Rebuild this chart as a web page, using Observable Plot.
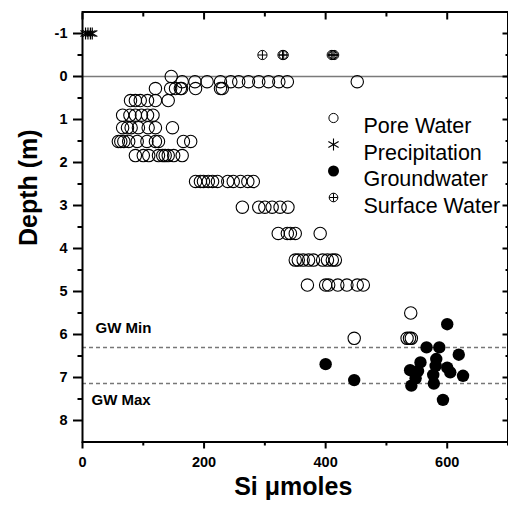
<!DOCTYPE html>
<html><head><meta charset="utf-8">
<script src="https://cdn.jsdelivr.net/npm/d3@7"></script>
<script src="https://cdn.jsdelivr.net/npm/@observablehq/plot@0.6"></script>
<style>body{margin:0;background:#fff}</style>
</head><body><div id="chart"></div>
<script>
// ---- data ----
const poreRowDepths = [0.0, 0.12, 0.28, 0.56, 0.90, 1.19, 1.51, 1.84, 2.44, 3.04, 3.65, 4.27, 4.85, 5.50, 6.09];
const poreRowSi = [
  [146],
  [164, 185, 205, 227, 244, 257, 273, 290, 306, 323, 337, 452],
  [120, 145, 153, 161, 163, 186, 227, 230],
  [79, 87, 95, 107, 120, 141],
  [66, 78, 87, 97, 107, 116],
  [66, 74, 80, 92, 108, 120, 148],
  [59, 63, 68, 76, 90, 106, 120, 125, 166, 178],
  [87, 100, 109, 125, 132, 136, 141, 150, 164],
  [186, 194, 199, 207, 214, 222, 239, 248, 260, 272, 281],
  [263, 290, 300, 312, 325, 338],
  [322, 337, 342, 350, 391],
  [350, 355, 363, 372, 380, 395, 403, 411, 416],
  [370, 400, 405, 420, 435, 452, 462],
  [540],
  [447, 534, 538, 541]
];
const precipSi = [5, 9, 13, 16];
const precipDepth = [-1, -1, -1, -1];
const groundSi    = [600, 566, 587, 619, 556, 582, 581, 539, 552, 600, 605, 626, 577, 548, 541, 578, 593, 447, 400];
const groundDepth = [5.76, 6.30, 6.30, 6.47, 6.65, 6.57, 6.73, 6.83, 6.85, 6.77, 6.88, 6.96, 6.94, 7.02, 7.19, 7.14, 7.52, 7.06, 6.69];
const surfaceSi    = [296, 329, 331, 410, 412, 414];
const surfaceDepth = [-0.5, -0.5, -0.5, -0.5, -0.5, -0.5];
const gwMin = 6.30, gwMax = 7.14;
const categories = ["Pore Water", "Precipitation", "Groundwater", "Surface Water"];
const yMajor = [-1, 0, 1, 2, 3, 4, 5, 6, 7, 8];
const yMinor = [-0.5, 0.5, 1.5, 2.5, 3.5, 4.5, 5.5, 6.5, 7.5];
const xMajor = [0, 200, 400, 600];
const xMinor = [100, 300, 500, 700];

// ---- tables ----
const pore = poreRowDepths.flatMap((d, i) => poreRowSi[i].map(si => ({si, depth: d})));
const precip = precipSi.map((si, i) => ({si, depth: precipDepth[i]}));
const ground = groundSi.map((si, i) => ({si, depth: groundDepth[i]}));
const surface = surfaceSi.map((si, i) => ({si, depth: surfaceDepth[i]}));

const font = "Liberation Sans, Arial, Helvetica, sans-serif";

// legend marks (pixel offsets from the frame's top-left)
const legendMarks = [];
const lgX = 251, lgY0 = 106, lgStep = 26.5, lgTextX = 281;
categories.forEach((c, i) => {
  const dy = lgY0 + i * lgStep;
  const base = {frameAnchor: "top-left", dx: lgX, dy};
  if (c === "Pore Water") legendMarks.push(Plot.dot([c], {...base, r: 4.6, stroke: "black", fill: "none", strokeWidth: 1}));
  if (c === "Precipitation") legendMarks.push(Plot.dot([c], {...base, symbol: "asterisk", r: 5.6, stroke: "black", strokeWidth: 1.1}));
  if (c === "Groundwater") legendMarks.push(Plot.dot([c], {...base, r: 5.5, fill: "black", stroke: "none"}));
  if (c === "Surface Water") {
    legendMarks.push(Plot.dot([c], {...base, r: 4.3, stroke: "black", fill: "none", strokeWidth: 1}));
    legendMarks.push(Plot.dot([c], {...base, symbol: "plus", r: 2.85, stroke: "black", strokeWidth: 1}));
  }
  legendMarks.push(Plot.text([c], {frameAnchor: "top-left", dx: lgTextX, dy, text: d => d, textAnchor: "start", fontSize: 21.5, fill: "black"}));
});

const chart = Plot.plot({
  width: 508, height: 512,
  marginLeft: 82, marginRight: 0.5, marginTop: 11.5, marginBottom: 70.5,
  style: {fontFamily: font, background: "white", overflow: "visible", color: "black"},
  x: {domain: [0, 700], axis: null},
  y: {domain: [-1.5, 8.5], reverse: true, axis: null},
  marks: [
    Plot.ruleY([0], {stroke: "#7a7a7a", strokeWidth: 1.5}),
    Plot.ruleY([gwMin, gwMax], {stroke: "#777", strokeWidth: 1.5, strokeDasharray: "4,3"}),
    Plot.text(["GW Min"], {x: 0, y: gwMin, dx: 13, dy: -19, text: d => d, textAnchor: "start", fontWeight: "bold", fontSize: 15}),
    Plot.text(["GW Max"], {x: 0, y: gwMax, dx: 9, dy: 16.5, text: d => d, textAnchor: "start", fontWeight: "bold", fontSize: 15}),
    Plot.dot(pore, {x: "si", y: "depth", r: 6.2, stroke: "black", fill: "none", strokeWidth: 1.1}),
    Plot.dot(precip, {x: "si", y: "depth", symbol: "asterisk", r: 5.6, stroke: "black", strokeWidth: 1.2}),
    Plot.dot(ground, {x: "si", y: "depth", r: 6.2, fill: "black", stroke: "none"}),
    Plot.dot(surface, {x: "si", y: "depth", r: 4.6, stroke: "black", fill: "none", strokeWidth: 1}),
    Plot.dot(surface, {x: "si", y: "depth", symbol: "plus", r: 2.95, stroke: "black", strokeWidth: 1}),
    ...legendMarks,
    // axes
    Plot.axisY({anchor: "left", ticks: yMajor, tickSize: 9, tickPadding: 6, strokeWidth: 2, fontSize: 14.5, fontWeight: "bold", tickFormat: d => String(d), label: null}),
    Plot.axisY({anchor: "left", ticks: yMinor, tickSize: 4.5, strokeWidth: 2, tickFormat: () => "", label: null}),
    Plot.axisY({anchor: "right", ticks: yMajor, tickSize: 6, dx: -6, strokeWidth: 2, tickFormat: () => "", label: null}),
    Plot.axisY({anchor: "right", ticks: yMinor, tickSize: 3, dx: -3, strokeWidth: 2, tickFormat: () => "", label: null}),
    Plot.axisX({anchor: "top", ticks: xMajor, tickSize: 7, dy: 7, strokeWidth: 2, tickFormat: () => "", label: null}),
    Plot.axisX({anchor: "top", ticks: xMinor, tickSize: 4, dy: 4, strokeWidth: 2, tickFormat: () => "", label: null}),
    Plot.axisX({anchor: "bottom", ticks: xMajor, tickSize: 7, tickPadding: 8, strokeWidth: 2, fontSize: 14.5, fontWeight: "bold", tickFormat: d => String(d), label: null}),
    Plot.axisX({anchor: "bottom", ticks: xMinor, tickSize: 4, strokeWidth: 2, tickFormat: () => "", label: null}),
    Plot.frame({stroke: "black", strokeWidth: 2}),
    Plot.text(["Depth (m)"], {frameAnchor: "left", dx: -53.5, dy: 19, rotate: -90, text: d => d, fontSize: 25, fontWeight: "bold"}),
    Plot.text(["Si μmoles"], {frameAnchor: "bottom", dx: -2, dy: 53, text: d => d, fontSize: 25, fontWeight: "bold"})
  ]
});
document.getElementById("chart").appendChild(chart);
</script>
</body></html>
